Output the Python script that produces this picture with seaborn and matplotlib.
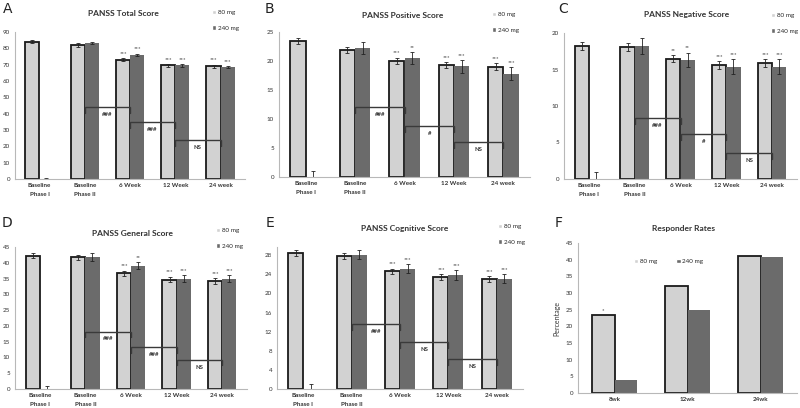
import matplotlib
matplotlib.use("Agg")
import matplotlib.pyplot as plt
import seaborn as sns
import pandas as pd

sns.set_theme(style="white")
plt.rcParams['font.family'] = ['Lato', 'DejaVu Sans']

DOSES = ["80 mg", "240 mg"]
GROUPS = ["Baseline\nPhase I", "Baseline\nPhase II", "6 Week", "12 Week", "24 week"]
WEEKS = ["8wk", "12wk", "24wk"]

# PANSS total
total_80 = [84, 82, 73, 69.5, 69]
total_240 = [0, 83, 76, 69.5, 68.5]
total_80_err = [0.8, 1.0, 1.0, 1.0, 1.0]
total_240_err = [0.5, 0.6, 0.8, 0.8, 0.5]
total_stars_80 = ["", "", "***", "***", "***"]
total_stars_240 = ["", "", "***", "***", "***"]
total_brk = [44, 35, 24]
total_brk_lbl = ["###", "###", "NS"]

# PANSS positive
pos_80 = [23.4, 21.9, 20.0, 19.3, 19.0]
pos_240 = [0, 22.2, 20.5, 19.1, 17.8]
pos_80_err = [0.5, 0.5, 0.6, 0.5, 0.6]
pos_240_err = [1.0, 1.0, 1.0, 1.1, 1.1]
pos_stars_80 = ["", "", "***", "***", "***"]
pos_stars_240 = ["", "", "**", "***", "***"]
pos_brk = [12, 8.8, 6]
pos_brk_lbl = ["###", "#", "NS"]

# PANSS negative
neg_80 = [18.2, 18.1, 16.5, 15.6, 15.9]
neg_240 = [0, 18.2, 16.3, 15.4, 15.4]
neg_80_err = [0.5, 0.5, 0.5, 0.5, 0.5]
neg_240_err = [1.0, 1.1, 1.0, 1.0, 1.0]
neg_stars_80 = ["", "", "**", "***", "***"]
neg_stars_240 = ["", "", "**", "***", "***"]
neg_brk = [8.4, 6.2, 3.6]
neg_brk_lbl = ["###", "#", "NS"]

# PANSS general
gen_80 = [42.3, 41.8, 36.7, 34.7, 34.3]
gen_240 = [0, 41.8, 39.0, 35.0, 35.0]
gen_80_err = [0.8, 0.8, 0.8, 0.9, 0.9]
gen_240_err = [1.0, 1.2, 1.1, 1.0, 1.0]
gen_stars_80 = ["", "", "***", "***", "***"]
gen_stars_240 = ["", "", "**", "***", "***"]
gen_brk = [18.2, 13.3, 9.3]
gen_brk_lbl = ["###", "###", "NS"]

# PANSS cognitive
cog_80 = [28.4, 27.8, 24.6, 23.4, 23.0]
cog_240 = [0, 28.1, 25.2, 23.9, 23.1]
cog_80_err = [0.6, 0.6, 0.6, 0.6, 0.6]
cog_240_err = [1.0, 1.0, 1.0, 1.0, 1.0]
cog_stars_80 = ["", "", "***", "***", "***"]
cog_stars_240 = ["", "", "***", "***", "***"]
cog_brk = [13.5, 9.8, 6.2]
cog_brk_lbl = ["###", "NS", "NS"]

# responder rates
resp_80 = [23.3, 32, 41]
resp_240 = [3.8, 25, 40.8]
resp_stars_80 = ["*", "", ""]

LIGHT = "#d2d2d2"
DARK = "#6b6b6b"
SPINE = "#b8b8b8"
TXT = "#333333"

fig = plt.figure(figsize=(8, 4.08), dpi=100)


def px_rect(l, t, r, b):
    return [l / 800, 1 - b / 408, (r - l) / 800, (b - t) / 408]


def bars(ax, cats, v80, v240):
    df = pd.DataFrame({"cat": cats * 2, "dose": [DOSES[0]] * len(cats) + [DOSES[1]] * len(cats),
                       "val": list(v80) + list(v240)})
    sns.barplot(data=df, x="cat", y="val", hue="dose", order=cats, hue_order=DOSES,
                palette=[LIGHT, DARK], width=0.62, errorbar=None, ax=ax, saturation=1)
    for p in ax.containers[0]:
        p.set_edgecolor("#1a1a1a")
        p.set_linewidth(1.3)
    for p in ax.containers[1]:
        p.set_edgecolor("none")


def style(ax, ymax, yticks, fs=4.5):
    ax.set_ylim(0, ymax)
    ax.set_yticks(yticks)
    ax.set_xlabel("")
    ax.set_ylabel("")
    for s in ["top", "right"]:
        ax.spines[s].set_visible(False)
    for s in ["left", "bottom"]:
        ax.spines[s].set_color(SPINE)
        ax.spines[s].set_linewidth(0.8)
    ax.tick_params(axis="y", labelsize=fs, colors=TXT, length=2, width=0.5, pad=1.5, color=SPINE)
    ax.tick_params(axis="x", labelsize=fs, colors=TXT, length=0, pad=3)
    for t in ax.get_xticklabels():
        t.set_linespacing(2.0)
        t.set_fontweight("bold")
    n = len(ax.get_xticks())
    ax.set_xticks([i + 0.5 for i in range(-1, n)], minor=True)
    ax.tick_params(axis="x", which="minor", length=2, width=0.5, color=SPINE, direction="out")


def errs_and_stars(ax, e80, e240, s80, s240):
    for cont, errs, stars in [(ax.containers[0], e80, s80), (ax.containers[1], e240, s240)]:
        for p, e, s in zip(cont, errs, stars):
            cx = p.get_x() + p.get_width() / 2
            h = p.get_height()
            if e:
                ax.errorbar(cx, h, yerr=e, color="#222222", lw=0.6, capsize=1.3, capthick=0.6)
            if s:
                ax.annotate(s, (cx, h + e), xytext=(0, 1.5), textcoords="offset points",
                            ha="center", va="bottom", fontsize=4.3, color=TXT)


def brackets(ax, levels, labels, ymax):
    c = ax.containers[0]
    drop = 0.04 * ymax
    for i, (y, lbl) in enumerate(zip(levels, labels)):
        x0 = c[i + 1].get_x() + c[i + 1].get_width()
        x1 = c[i + 2].get_x() + c[i + 2].get_width()
        ax.plot([x0, x0, x1, x1], [y - drop, y, y, y - drop], color="#3a3a3a", lw=1.0,
                solid_joinstyle="miter")
        ax.annotate(lbl, ((x0 + x1) / 2, y), xytext=(0, -3.5), textcoords="offset points",
                    ha="center", va="top", fontsize=4.3, color=TXT, fontweight="bold")


def legend(ax, x, y, ncol=1):
    sns.move_legend(ax, "upper left", bbox_to_anchor=(x / 800, 1 - y / 408),
                    bbox_transform=fig.transFigure, frameon=False, title=None, fontsize=4.5,
                    handlelength=0.7, handleheight=0.7, handletextpad=0.3, labelspacing=1.6,
                    borderpad=0, borderaxespad=0, ncol=ncol, columnspacing=3)


panels = [
    ("A", (15, 32, 245, 179), "PANSS Total Score", total_80, total_240, total_80_err, total_240_err,
     total_stars_80, total_stars_240, total_brk, total_brk_lbl, 90, range(0, 91, 10),
     (3, 2), (123, 13), (212, 10)),
    ("B", (279, 32, 530, 177), "PANSS Positive Score", pos_80, pos_240, pos_80_err, pos_240_err,
     pos_stars_80, pos_stars_240, pos_brk, pos_brk_lbl, 25, range(0, 26, 5),
     (265, 2), (403, 15), (492, 12)),
    ("C", (564, 33, 797, 179), "PANSS Negative Score", neg_80, neg_240, neg_80_err, neg_240_err,
     neg_stars_80, neg_stars_240, neg_brk, neg_brk_lbl, 20, range(0, 21, 5),
     (558, 2), (687, 15), (771, 13)),
    ("D", (15, 247, 247, 389), "PANSS General Score", gen_80, gen_240, gen_80_err, gen_240_err,
     gen_stars_80, gen_stars_240, gen_brk, gen_brk_lbl, 45, range(0, 46, 5),
     (2, 216), (133, 233), (216, 228)),
    ("E", (277, 247, 523, 389), "PANSS Cognitive Score", cog_80, cog_240, cog_80_err, cog_240_err,
     cog_stars_80, cog_stars_240, cog_brk, cog_brk_lbl, 29.7, range(0, 29, 4),
     (266, 216), (405, 229), (498, 224)),
]

for (letter, rect, title, v80, v240, e80, e240, s80, s240, brk, brk_lbl, ymax, yt,
     lpos, tpos, legpos) in panels:
    ax = fig.add_axes(px_rect(*rect))
    bars(ax, GROUPS, v80, v240)
    style(ax, ymax, list(yt))
    errs_and_stars(ax, e80, e240, s80, s240)
    brackets(ax, brk, brk_lbl, ymax)
    legend(ax, *legpos)
    fig.text(lpos[0] / 800, 1 - lpos[1] / 408, letter, fontsize=10, va="top", ha="left",
             family="DejaVu Sans", color="#222222")
    fig.text(tpos[0] / 800, 1 - tpos[1] / 408, title, fontsize=6, ha="center", va="center",
             fontweight="bold", color=TXT)

# responder rates
ax = fig.add_axes(px_rect(578, 243, 797, 393))
bars(ax, WEEKS, resp_80, resp_240)
style(ax, 45, list(range(0, 46, 5)))
errs_and_stars(ax, [0, 0, 0], [0, 0, 0], resp_stars_80, ["", "", ""])
ax.set_ylabel("Percentage", fontsize=5, color=TXT, labelpad=4)
legend(ax, 634, 259, ncol=2)
fig.text(555 / 800, 1 - 216 / 408, "F", fontsize=10, va="top", ha="left",
         family="DejaVu Sans", color="#222222")
fig.text(683 / 800, 1 - 229 / 408, "Responder Rates", fontsize=6, ha="center", va="center",
         fontweight="bold", color=TXT)

fig.savefig("out.png", dpi=100)
